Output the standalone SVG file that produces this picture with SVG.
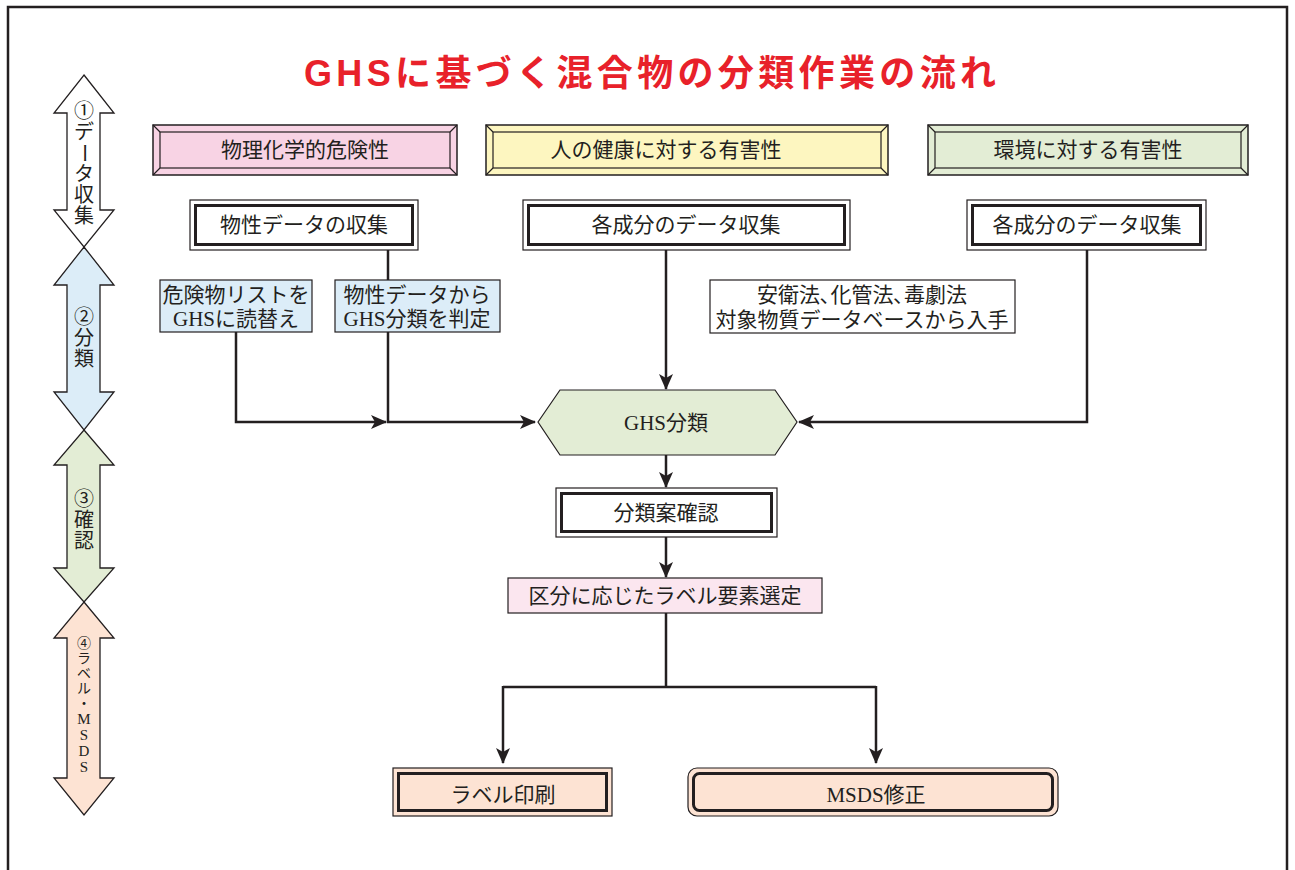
<svg xmlns="http://www.w3.org/2000/svg" width="1295" height="870" viewBox="0 0 1295 870">
<defs>
<style>
.t{font-family:"Liberation Serif","Noto Sans CJK JP",serif;font-size:21px;fill:#231f20;text-anchor:middle;dominant-baseline:central}
.v{font-family:"Liberation Serif","Noto Sans CJK JP",serif;font-size:20px;fill:#231f20;text-anchor:middle;dominant-baseline:central}
.v4{font-size:14px}
.thin{stroke:#231f20;stroke-width:1.2}
.thick{fill:none;stroke:#231f20;stroke-width:3}
.bev{stroke:#231f20;stroke-width:1.5}
.ln{fill:none;stroke:#231f20;stroke-width:2.5}
.va{stroke:#231f20;stroke-width:1.3}
</style>
<marker id="ah" viewBox="0 0 16 14" refX="15" refY="7" markerWidth="16" markerHeight="14" markerUnits="userSpaceOnUse" orient="auto">
<path d="M0,0 L16,7 L0,14 L4,7 z" fill="#231f20"/>
</marker>
</defs>
<rect width="1295" height="870" fill="#fff"/>
<path d="M8,872 V7 H1287 V872" fill="none" stroke="#231f20" stroke-width="2.5"/>

<text x="650" y="73" font-family="'Liberation Sans','Noto Sans CJK JP',sans-serif" font-size="36" font-weight="bold" fill="#e8212a" text-anchor="middle" dominant-baseline="central" textLength="692" lengthAdjust="spacing">GHSに基づく混合物の分類作業の流れ</text>

<g id="stage1">
<path class="va" fill="#fff" d="M84,75 L114,113 L100,113 L100,210 L114,210 L84,247 L54,210 L67,210 L67,113 L54,113 Z"/>
<text class="v" x="84" y="111">①</text>
<text class="v" x="84" y="132">デ</text>
<text class="v" x="84" y="153" transform="rotate(90 84 153)">ー</text>
<text class="v" x="84" y="174">タ</text>
<text class="v" x="84" y="195">収</text>
<text class="v" x="84" y="216">集</text>
</g>
<g id="stage2">
<path class="va" fill="#dcedf8" d="M84,247 L114,285 L100,285 L100,392 L114,392 L84,430 L54,392 L67,392 L67,285 L54,285 Z"/>
<text class="v" x="84" y="317">②</text>
<text class="v" x="84" y="338">分</text>
<text class="v" x="84" y="359">類</text>
</g>
<g id="stage3">
<path class="va" fill="#e3edd5" d="M84,430 L114,465 L100,465 L100,568 L114,568 L84,602 L54,568 L67,568 L67,465 L54,465 Z"/>
<text class="v" x="84" y="499">③</text>
<text class="v" x="84" y="520">確</text>
<text class="v" x="84" y="541">認</text>
</g>
<g id="stage4">
<path class="va" fill="#fde3d3" d="M84,602 L114,638 L100,638 L100,778 L114,778 L84,815 L54,778 L67,778 L67,638 L54,638 Z"/>
<text class="v v4" x="84" y="643">④</text>
<text class="v v4" x="84" y="658">ラ</text>
<text class="v v4" x="84" y="673">ベ</text>
<text class="v v4" x="84" y="688">ル</text>
<text class="v v4" x="84" y="703">・</text>
<text class="v v4" x="84" y="719" style="font-size:15px">M</text>
<text class="v v4" x="84" y="735" style="font-size:15px">S</text>
<text class="v v4" x="84" y="751" style="font-size:15px">D</text>
<text class="v v4" x="84" y="767" style="font-size:15px">S</text>
</g>

<g id="hdr-physchem">
<rect class="bev" x="153" y="125" width="304" height="50" fill="#f8d3e4"/>
<rect class="thin" x="160" y="132" width="290" height="36" fill="#f8d3e4"/>
<path class="thin" d="M153,125 L160,132 M457,125 L450,132 M153,175 L160,168 M457,175 L450,168"/>
<text class="t" x="305" y="150">物理化学的危険性</text>
</g>
<g id="hdr-health">
<rect class="bev" x="486" y="125" width="402" height="50" fill="#fdf6c0"/>
<rect class="thin" x="493" y="132" width="388" height="36" fill="#fdf6c0"/>
<path class="thin" d="M486,125 L493,132 M888,125 L881,132 M486,175 L493,168 M888,175 L881,168"/>
<text class="t" x="666" y="150">人の健康に対する有害性</text>
</g>
<g id="hdr-env">
<rect class="bev" x="928" y="125" width="320" height="50" fill="#e3edd5"/>
<rect class="thin" x="935" y="132" width="306" height="36" fill="#e3edd5"/>
<path class="thin" d="M928,125 L935,132 M1248,125 L1241,132 M928,175 L935,168 M1248,175 L1241,168"/>
<text class="t" x="1088" y="150">環境に対する有害性</text>
</g>

<g id="connectors">
<path class="ln" d="M388,250 V280"/>
<path class="ln" d="M388,332 V422 H535" marker-end="url(#ah)"/>
<path class="ln" d="M236,332 V422 H386" marker-end="url(#ah)"/>
<path class="ln" d="M666,250 V389" marker-end="url(#ah)"/>
<path class="ln" d="M1087,250 V422 H799" marker-end="url(#ah)"/>
<path class="ln" d="M666,455 V487" marker-end="url(#ah)"/>
<path class="ln" d="M666,537 V577" marker-end="url(#ah)"/>
<path class="ln" d="M666,613 V687"/>
<path class="ln" d="M503,687 H876"/>
<path class="ln" d="M503,686 V763" marker-end="url(#ah)"/>
<path class="ln" d="M876,686 V763" marker-end="url(#ah)"/>
</g>

<g id="collect-phys">
<rect class="thin" x="190" y="200" width="228" height="50" fill="#fff"/>
<rect class="thick" x="195.5" y="205.5" width="217" height="39"/>
<text class="t" x="304" y="225">物性データの収集</text>
</g>
<g id="collect-health">
<rect class="thin" x="523" y="200" width="327" height="50" fill="#fff"/>
<rect class="thick" x="528.5" y="205.5" width="316" height="39"/>
<text class="t" x="686" y="225">各成分のデータ収集</text>
</g>
<g id="collect-env">
<rect class="thin" x="967" y="200" width="239" height="50" fill="#fff"/>
<rect class="thick" x="972.5" y="205.5" width="228" height="39"/>
<text class="t" x="1087" y="225">各成分のデータ収集</text>
</g>

<g id="list-convert">
<rect class="thin" x="160" y="280" width="152" height="52" fill="#dcedf8"/>
<text class="t" x="236" y="295">危険物リストを</text>
<text class="t" x="236" y="319">GHSに読替え</text>
</g>
<g id="data-judge">
<rect class="thin" x="335" y="280" width="165" height="52" fill="#dcedf8"/>
<text class="t" x="417" y="295">物性データから</text>
<text class="t" x="417" y="319">GHS分類を判定</text>
</g>
<g id="law-db">
<rect class="thin" x="710" y="280" width="305" height="53" fill="#fff"/>
<text class="t" x="862" y="295">安衛法､化管法､毒劇法</text>
<text class="t" x="862" y="320">対象物質データベースから入手</text>
</g>

<g id="ghs-class">
<path class="thin" d="M538,422 L560,390 L775,390 L797,422 L775,455 L560,455 Z" fill="#e3edd5"/>
<text class="t" x="666" y="423">GHS分類</text>
</g>
<g id="confirm">
<rect class="thin" x="556" y="488" width="221" height="49" fill="#fff"/>
<rect class="thick" x="561.5" y="493.5" width="210" height="38"/>
<text class="t" x="666" y="513">分類案確認</text>
</g>
<g id="label-select">
<rect class="thin" x="508" y="578" width="314" height="35" fill="#fbe6ef"/>
<text class="t" x="665" y="596">区分に応じたラベル要素選定</text>
</g>
<g id="label-print">
<rect class="thin" x="393" y="768" width="219" height="48" fill="#fde3d3"/>
<rect class="thick" x="398.5" y="773.5" width="208" height="37"/>
<text class="t" x="503" y="795">ラベル印刷</text>
</g>
<g id="msds-fix">
<rect class="thin" x="688" y="768" width="370" height="48" rx="9" fill="#fde3d3"/>
<rect class="thick" x="693.5" y="773.5" width="359" height="37" rx="6"/>
<text class="t" x="876" y="795">MSDS修正</text>
</g>
</svg>
